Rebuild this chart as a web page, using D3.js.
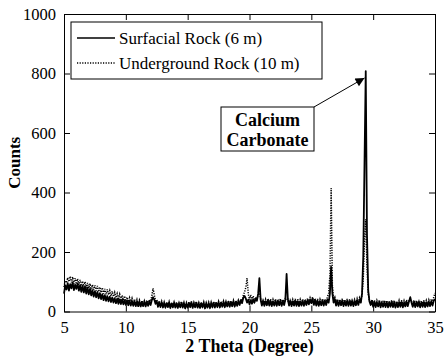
<!DOCTYPE html>
<html>
<head>
<meta charset="utf-8">
<script src="https://cdn.jsdelivr.net/npm/d3@7/dist/d3.min.js"></script>
<style>
  html, body { margin: 0; padding: 0; background: #fff; }
  svg { display: block; }
</style>
</head>
<body>
<svg id="chart" width="444" height="362"></svg>
<script>
// Diffraction scan: 2θ from 5° to 35° in 0.1° steps
const thetaStart = 5, thetaEnd = 35, thetaStep = 0.1;

// Surfacial rock (6 m) counts, one row per degree of 2θ
const surfacial = [
  60, 88, 74, 95, 70, 92, 78, 98, 72, 90,
  76, 94, 70, 88, 66, 86, 64, 84, 60, 80,
  58, 76, 54, 72, 50, 68, 48, 66, 44, 62,
  42, 58, 38, 55, 36, 52, 34, 50, 32, 47,
  30, 45, 28, 43, 26, 41, 25, 40, 24, 38,
  22, 37, 21, 36, 20, 35, 19, 34, 18, 33,
  18, 33, 17, 32, 18, 34, 17, 32, 19, 34,
  22, 38, 48, 40, 26, 34, 16, 31, 15, 30,
  14, 29, 13, 28, 15, 30, 12, 27, 14, 29,
  13, 28, 12, 27, 14, 30, 13, 28, 11, 27,
  13, 29, 15, 31, 12, 28, 14, 30, 13, 27,
  12, 28, 14, 29, 11, 27, 13, 28, 12, 29,
  14, 30, 13, 29, 15, 31, 14, 30, 16, 32,
  15, 31, 17, 33, 16, 32, 18, 34, 17, 33,
  19, 35, 22, 38, 28, 46, 52, 44, 30, 40,
  24, 38, 26, 40, 30, 44, 36, 60, 112, 40,
  20, 36, 19, 35, 21, 37, 20, 36, 18, 34,
  20, 36, 19, 35, 21, 37, 19, 35, 22, 40,
  126, 42, 20, 36, 18, 34, 20, 36, 19, 35,
  18, 34, 20, 36, 19, 35, 22, 38, 24, 40,
  28, 44, 22, 38, 20, 36, 19, 35, 21, 37,
  20, 36, 22, 40, 30, 60, 150, 62, 30, 42,
  20, 36, 19, 35, 21, 37, 18, 34, 20, 36,
  19, 35, 20, 36, 18, 34, 21, 37, 22, 40,
  30, 60, 185, 500, 808, 260, 70, 34, 22, 36,
  16, 32, 15, 31, 17, 33, 14, 30, 16, 32,
  15, 31, 14, 30, 16, 32, 15, 31, 13, 29,
  15, 31, 16, 32, 14, 30, 17, 33, 18, 34,
  48, 30, 16, 32, 15, 31, 17, 33, 14, 30,
  16, 32, 15, 31, 17, 33, 18, 34, 20, 36,
  42
];

// Underground rock (10 m) counts, same 2θ steps
const underground = [
  82, 104, 96, 114, 100, 118, 98, 116, 94, 112,
  92, 110, 90, 106, 86, 102, 84, 100, 80, 96,
  78, 94, 74, 90, 72, 88, 70, 86, 66, 82,
  64, 80, 60, 76, 58, 74, 56, 70, 52, 68,
  50, 64, 46, 60, 44, 58, 40, 54, 38, 52,
  34, 48, 32, 46, 30, 44, 28, 42, 26, 40,
  24, 38, 23, 37, 22, 36, 24, 38, 26, 40,
  34, 52, 78, 56, 36, 40, 22, 36, 20, 34,
  18, 32, 17, 31, 19, 33, 16, 30, 18, 32,
  17, 31, 16, 30, 18, 33, 17, 31, 15, 30,
  17, 32, 19, 34, 16, 31, 18, 33, 17, 30,
  16, 31, 18, 32, 15, 30, 17, 31, 16, 32,
  18, 33, 17, 32, 19, 34, 18, 33, 20, 35,
  19, 34, 21, 36, 20, 35, 22, 37, 21, 36,
  23, 38, 26, 42, 34, 54, 66, 80, 112, 60,
  40, 56, 38, 52, 34, 48, 40, 56, 62, 44,
  26, 42, 25, 41, 27, 43, 26, 42, 24, 40,
  26, 42, 25, 41, 27, 43, 25, 41, 28, 44,
  44, 38, 26, 42, 24, 40, 26, 42, 25, 41,
  24, 40, 26, 42, 25, 41, 28, 44, 30, 46,
  34, 48, 28, 44, 26, 42, 25, 41, 27, 43,
  26, 42, 30, 50, 60, 120, 415, 90, 40, 48,
  26, 42, 25, 41, 27, 43, 24, 40, 26, 42,
  25, 41, 26, 42, 24, 40, 27, 43, 28, 46,
  36, 56, 110, 240, 310, 150, 60, 36, 26, 40,
  22, 38, 21, 37, 23, 39, 20, 36, 22, 38,
  21, 37, 20, 36, 22, 38, 21, 37, 19, 35,
  21, 37, 22, 38, 20, 36, 23, 39, 24, 40,
  36, 34, 22, 38, 21, 37, 23, 39, 20, 36,
  22, 38, 21, 37, 23, 39, 26, 42, 34, 48,
  62
];

const xTicks = [5, 10, 15, 20, 25, 30, 35];
const yTicks = [0, 200, 400, 600, 800, 1000];
const seriesNames = ["Surfacial Rock (6 m)", "Underground Rock (10 m)"];
const calloutLines = ["Calcium", "Carbonate"];
const calloutPeak = { theta: 29.3, counts: 785 };

const twoTheta = surfacial.map((_, i) => +(thetaStart + i * thetaStep).toFixed(1));

const serif = '"Liberation Serif"';
const svg = d3.select("#chart");
const margin = { left: 64, right: 9, top: 14, bottom: 50.5 };
const W = 444, H = 362;
const x = d3.scaleLinear().domain([thetaStart, thetaEnd]).range([margin.left, W - margin.right]);
const y = d3.scaleLinear().domain([0, 1000]).range([H - margin.bottom, margin.top]);

// Traces: underground dotted underneath, surfacial solid on top
const line = d3.line().x((d, i) => x(twoTheta[i])).y(d => y(d));
svg.append("path").datum(underground)
  .attr("d", line).attr("fill", "none").attr("stroke", "#000")
  .attr("stroke-width", 1.5).attr("stroke-dasharray", "1.2,1.3");
svg.append("path").datum(surfacial)
  .attr("d", line).attr("fill", "none").attr("stroke", "#000")
  .attr("stroke-width", 1.8).attr("stroke-linejoin", "round");

// Axes with inward ticks on all four sides
const tickLen = 6;
const fmt = d3.format("d");
const bottomAxis = d3.axisBottom(x).tickValues(xTicks).tickFormat(fmt).tickSizeInner(-tickLen).tickSizeOuter(0).tickPadding(tickLen + 4);
const topAxis = d3.axisTop(x).tickValues(xTicks).tickSizeInner(-tickLen).tickSizeOuter(0).tickFormat("");
const leftAxis = d3.axisLeft(y).tickValues(yTicks).tickFormat(fmt).tickSizeInner(-tickLen).tickSizeOuter(0).tickPadding(tickLen + 2);
const rightAxis = d3.axisRight(y).tickValues(yTicks).tickSizeInner(-tickLen).tickSizeOuter(0).tickFormat("");

function styleAxis(g) {
  g.selectAll("path").attr("stroke", "#000").attr("stroke-width", 1);
  g.selectAll("line").attr("stroke", "#000").attr("stroke-width", 1);
  g.selectAll("text").style("font-family", serif).style("font-size", "16.5px").attr("fill", "#000");
}
svg.append("g").attr("transform", `translate(0,${y(0)})`).call(bottomAxis).call(styleAxis);
svg.append("g").attr("transform", `translate(0,${y(1000)})`).call(topAxis).call(styleAxis);
svg.append("g").attr("transform", `translate(${x(thetaStart)},0)`).call(leftAxis).call(styleAxis);
svg.append("g").attr("transform", `translate(${x(thetaEnd)},0)`).call(rightAxis).call(styleAxis);

// Axis titles
svg.append("text")
  .attr("x", (x(thetaStart) + x(thetaEnd)) / 2).attr("y", 352)
  .attr("text-anchor", "middle")
  .style("font-family", serif).style("font-weight", "bold").style("font-size", "18px")
  .text("2 Theta (Degree)");
svg.append("text")
  .attr("transform", `translate(20,${(y(0) + y(1000)) / 2}) rotate(-90)`)
  .attr("text-anchor", "middle")
  .style("font-family", serif).style("font-weight", "bold").style("font-size", "17px")
  .text("Counts");

// Legend
const lg = svg.append("g").attr("transform", `translate(${x(thetaStart) + 7},${y(1000) + 8})`);
lg.append("rect").attr("width", 251).attr("height", 57)
  .attr("fill", "#fff").attr("stroke", "#000").attr("stroke-width", 1);
seriesNames.forEach((name, i) => {
  const cy = 16 + i * 25;
  lg.append("line").attr("x1", 6).attr("x2", 44).attr("y1", cy).attr("y2", cy)
    .attr("stroke", "#000").attr("stroke-width", i === 0 ? 1.5 : 1.3)
    .attr("stroke-dasharray", i === 0 ? null : "1.2,1.4");
  lg.append("text").attr("x", 48).attr("y", cy + 6)
    .style("font-family", serif).style("font-size", "17px").text(name);
});

// Callout box with arrow to the main calcite reflection
const boxL = 221, boxT = 107, boxW = 93, boxH = 44;
svg.append("defs").append("marker")
  .attr("id", "arrowHead").attr("viewBox", "0 0 10 10")
  .attr("refX", 10).attr("refY", 5)
  .attr("markerWidth", 12).attr("markerHeight", 9).attr("markerUnits", "userSpaceOnUse")
  .attr("orient", "auto")
  .append("path").attr("d", "M0,0 L10,5 L0,10 Z").attr("fill", "#000");
svg.append("line")
  .attr("x1", boxL + boxW).attr("y1", boxT)
  .attr("x2", x(calloutPeak.theta)).attr("y2", y(calloutPeak.counts))
  .attr("stroke", "#000").attr("stroke-width", 1)
  .attr("marker-end", "url(#arrowHead)");
svg.append("rect").attr("x", boxL).attr("y", boxT).attr("width", boxW).attr("height", boxH)
  .attr("fill", "#fff").attr("stroke", "#000").attr("stroke-width", 1);
calloutLines.forEach((t, i) => {
  svg.append("text").attr("x", boxL + boxW / 2).attr("y", boxT + 19 + i * 20)
    .attr("text-anchor", "middle")
    .style("font-family", serif).style("font-weight", "bold").style("font-size", "18px")
    .text(t);
});
</script>
</body>
</html>
